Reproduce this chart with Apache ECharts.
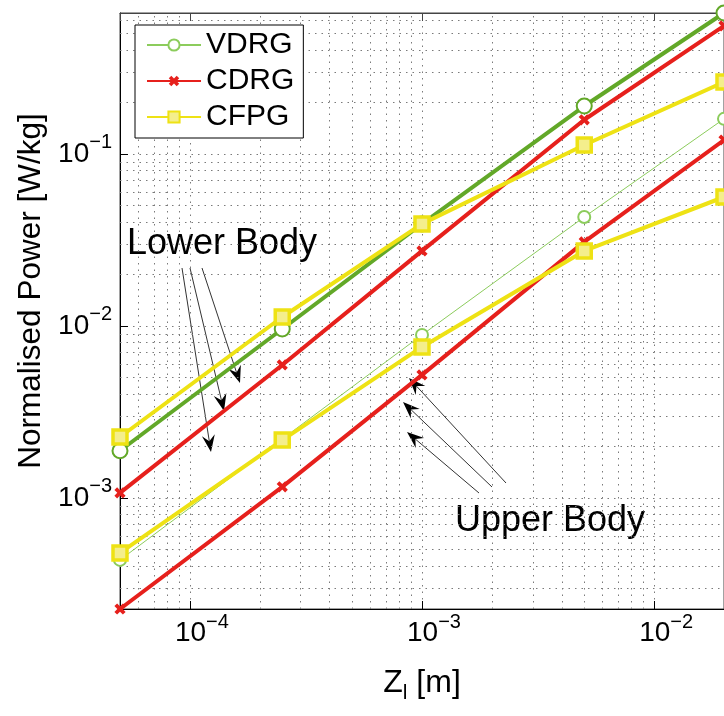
<!DOCTYPE html>
<html lang="en">
  <head>
    <meta charset="UTF-8" />
    <title>Normalised Power vs Z_l</title>
    <script src="https://cdn.jsdelivr.net/npm/echarts@6/dist/echarts.min.js"></script>
    <style>
      html, body { margin: 0; padding: 0; background: #fff; }
      #chart { width: 724px; height: 716px; }
    </style>
  </head>
  <body>
    <div id="chart"></div>
    <script>
      // amplitude Z_l [m]
      const zl = [5e-5, 2.5e-4, 1e-3, 5e-3, 2e-2];

      // lower body (thick lines)
      const vdrgLower = [1.88e-3, 9.6e-3, 0.0392, 0.19, 0.66];
      const cdrgLower = [1.07e-3, 5.93e-3, 0.0273, 0.158, 0.555];
      const cfpgLower = [2.26e-3, 0.01127, 0.0392, 0.1127, 0.262];

      // upper body
      const vdrgUpper = [4.36e-4, 2.2e-3, 8.87e-3, 0.043, 0.16];
      const cdrgUpper = [2.26e-4, 1.16e-3, 5.19e-3, 0.0308, 0.1205];
      const cfpgUpper = [4.79e-4, 2.17e-3, 7.55e-3, 0.0273, 0.0562];

      // minor grid (log decades x mantissas)
      const xDecades = [1e-5, 1e-4, 1e-3];
      const yDecades = [1e-4, 1e-3, 1e-2, 1e-1];
      const mantissas = [2, 3, 4, 5, 6, 7, 8, 9];

      const xMin = 5e-5, xMax = 2e-2;
      const yMin = 2.26e-4, yMax = 0.66;

      const FONT = "'Liberation Sans', Arial, sans-serif";
      const GREEN = "#62a828";
      const GREEN_THIN = "#8ccc5c";
      const RED = "#e6201c";
      const YELLOW = "#eee214";
      const CROSS = "path://M3.4,0H6.6V3.4H10V6.6H6.6V10H3.4V6.6H0V3.4H3.4Z";

      const pairs = (ys) => zl.map((x, i) => [x, ys[i]]);

      const minorLines = [];
      xDecades.forEach((d) => mantissas.forEach((m) => {
        const v = d * m;
        if (v > xMin && v < xMax) minorLines.push([{ coord: [v, yMin] }, { coord: [v, yMax] }]);
      }));
      yDecades.forEach((d) => mantissas.forEach((m) => {
        const v = d * m;
        if (v > yMin && v < yMax) minorLines.push([{ coord: [xMin, v] }, { coord: [xMax, v] }]);
      }));

      function powLabel(v) {
        const e = Math.round(Math.log10(v));
        return "{b|10}{s|" + (e < 0 ? "\u2212" + -e : e) + "}";
      }
      const powRich = {
        b: { fontSize: 28, lineHeight: 28, fontFamily: FONT, color: "#000" },
        s: { fontSize: 20, lineHeight: 20, fontFamily: FONT, color: "#000", padding: [0, 0, 22, 0] },
      };
      const gridDots = { color: "#7a7a7a", width: 1, type: [1.5, 5] };

      function arrow(x1, y1, x2, y2) {
        const dx = x2 - x1, dy = y2 - y1, L = Math.hypot(dx, dy);
        const ux = dx / L, uy = dy / L, px = -uy, py = ux;
        const hl = 17, hw = 6.5, back = 11;
        const bx = x2 - ux * hl, by = y2 - uy * hl;
        const ix = x2 - ux * back, iy = y2 - uy * back;
        return [
          { type: "line", silent: true, shape: { x1: x1, y1: y1, x2: ix, y2: iy }, style: { stroke: "#333", lineWidth: 1 } },
          { type: "polygon", silent: true, shape: { points: [[x2, y2], [bx + px * hw, by + py * hw], [ix, iy], [bx - px * hw, by - py * hw]] }, style: { fill: "#000" } },
        ];
      }

      const chart = echarts.init(document.getElementById("chart"), null, { renderer: "canvas" });

      const option = {
        animation: false,
        backgroundColor: "#fff",
        textStyle: { fontFamily: FONT },
        grid: { left: 120, top: 13, right: -1, bottom: 107, show: true, borderColor: "#444", borderWidth: 1, backgroundColor: "#fff" },
        legend: {
          orient: "vertical",
          left: 135,
          top: 25,
          data: ["VDRG", "CDRG", "CFPG"],
          backgroundColor: "#fff",
          borderColor: "#000",
          borderWidth: 1,
          padding: [5, 9, 6, 11],
          itemWidth: 54,
          itemHeight: 14,
          itemGap: 6,
          selectedMode: false,
          textStyle: { fontSize: 30, color: "#000", fontFamily: FONT },
        },
        xAxis: [
          {
            type: "log",
            min: xMin,
            max: xMax,
            position: "bottom",
            axisLine: { lineStyle: { color: "#000", width: 1 } },
            axisTick: { inside: true, length: 8, lineStyle: { color: "#000" } },
            axisLabel: { formatter: powLabel, margin: 10, padding: [0, 0, 0, 24], showMinLabel: false, showMaxLabel: false, rich: powRich },
            splitLine: { show: true, lineStyle: gridDots },
            name: "{z|Z}{u|l}{z| [m]}",
            nameLocation: "middle",
            nameGap: 58,
            nameTextStyle: {
              rich: {
                z: { fontSize: 32, lineHeight: 32, fontFamily: FONT, color: "#000" },
                u: { fontSize: 21, lineHeight: 21, fontFamily: FONT, color: "#000", padding: [20, 0, 0, 0] },
              },
            },
          },
          {
            type: "log",
            min: xMin,
            max: xMax,
            position: "top",
            axisLine: { lineStyle: { color: "#444", width: 1 } },
            axisTick: { inside: true, length: 8, lineStyle: { color: "#444" } },
            axisLabel: { show: false },
            splitLine: { show: false },
          },
        ],
        yAxis: {
          type: "log",
          min: yMin,
          max: yMax,
          axisLine: { show: true, lineStyle: { color: "#000", width: 1 } },
          axisTick: { inside: true, length: 8, lineStyle: { color: "#000" } },
          axisLabel: { formatter: powLabel, margin: 8, showMinLabel: false, showMaxLabel: false, rich: powRich },
          splitLine: { show: true, lineStyle: gridDots },
          name: "Normalised Power [W/kg]",
          nameLocation: "middle",
          nameGap: 66,
          nameTextStyle: { fontSize: 31.5, lineHeight: 31, color: "#000", fontFamily: FONT, padding: [0, 0, 0, 40] },
        },
        series: [
          {
            name: "minor-grid",
            type: "line",
            data: [],
            z: 1,
            markLine: {
              silent: true,
              z: 1,
              symbol: ["none", "none"],
              label: { show: false },
              lineStyle: gridDots,
              data: minorLines,
            },
          },
          {
            name: "VDRG",
            type: "line",
            data: pairs(vdrgUpper),
            clip: false,
            symbol: "emptyCircle",
            symbolSize: 12,
            lineStyle: { color: GREEN_THIN, width: 1 },
            itemStyle: { color: GREEN_THIN, borderWidth: 1 },
          },
          {
            name: "VDRG",
            type: "line",
            data: pairs(vdrgLower),
            clip: false,
            symbol: "emptyCircle",
            symbolSize: 15,
            lineStyle: { color: GREEN, width: 4 },
            itemStyle: { color: GREEN, borderWidth: 3.5 },
          },
          {
            name: "CDRG",
            type: "line",
            data: pairs(cdrgLower),
            clip: false,
            symbol: CROSS,
            symbolRotate: 45,
            symbolSize: 12,
            lineStyle: { color: RED, width: 4 },
            itemStyle: { color: RED },
          },
          {
            name: "CDRG",
            type: "line",
            data: pairs(cdrgUpper),
            clip: false,
            symbol: CROSS,
            symbolRotate: 45,
            symbolSize: 12,
            lineStyle: { color: RED, width: 4 },
            itemStyle: { color: RED },
          },
          {
            name: "CFPG",
            type: "line",
            data: pairs(cfpgLower),
            clip: false,
            symbol: "rect",
            symbolSize: 14,
            lineStyle: { color: YELLOW, width: 4 },
            itemStyle: { color: "#f4ee8c", borderColor: YELLOW, borderWidth: 3.5 },
          },
          {
            name: "CFPG",
            type: "line",
            data: pairs(cfpgUpper),
            clip: false,
            symbol: "rect",
            symbolSize: 14,
            lineStyle: { color: YELLOW, width: 4 },
            itemStyle: { color: "#f4ee8c", borderColor: YELLOW, borderWidth: 3.5 },
          },
        ],
        graphic: [
          { type: "text", silent: true, left: 127, top: 226, style: { text: "Lower Body", font: "36px " + FONT, fill: "#000" } },
          { type: "text", silent: true, left: 455, top: 503, style: { text: "Upper Body", font: "36px " + FONT, fill: "#000" } },
        ]
          .concat(arrow(182, 268, 211, 452))
          .concat(arrow(190, 268, 224, 411))
          .concat(arrow(202, 268, 240, 383))
          .concat(arrow(479, 493, 407, 432))
          .concat(arrow(492, 487, 403, 402))
          .concat(arrow(506, 483, 409, 378)),
      };

      chart.setOption(option);
    </script>
  </body>
</html>
